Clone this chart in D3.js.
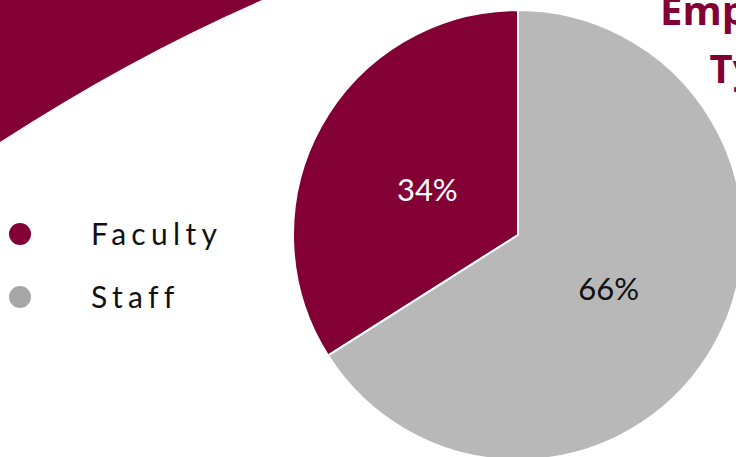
<!DOCTYPE html>
<meta charset="utf-8">
<title>Employee Type</title>
<style>
  body { margin: 0; background: #fff; }
  svg { display: block; }
</style>
<body>
<script src="https://cdn.jsdelivr.net/npm/d3@7"></script>
<script>
  // data
  var categories = ["Faculty", "Staff"];
  var shares = [34, 66];
  var sliceColors = ["#830035", "#b8b8b8"];
  var legendColors = ["#830035", "#a6a6a6"];
  var labelColors = ["#ffffff", "#111111"];
  var titleLines = ["Employee", "Type"];

  var width = 736,
      height = 457;

  var svg = d3.select("body").append("svg")
      .attr("width", width)
      .attr("height", height);

  // decorative maroon swoosh in the top-left corner
  svg.append("path")
      .attr("d", "M0,0 L262,0 Q131,57 0,142 Z")
      .attr("fill", "#830035");

  var cx = 518, cy = 235, radius = 225;

  var pie = d3.pie()
      .sort(null)
      .value(d => d);

  // faculty runs counter-clockwise from 12 o'clock, staff fills the rest
  var arcs = pie.startAngle(0).endAngle(-2 * Math.PI)(shares);

  var arc = d3.arc()
      .innerRadius(0)
      .outerRadius(radius);

  var labelArc = d3.arc()
      .innerRadius(radius * 0.46)
      .outerRadius(radius * 0.46);

  var g = svg.append("g")
      .attr("transform", `translate(${cx},${cy})`);

  g.selectAll("path.slice")
    .data(arcs)
    .join("path")
      .attr("class", "slice")
      .attr("d", arc)
      .attr("fill", (d, i) => sliceColors[i])
      .attr("stroke", "#fff")
      .attr("stroke-width", 2);

  g.selectAll("text.pct")
    .data(arcs)
    .join("text")
      .attr("class", "pct")
      .attr("transform", d => `translate(${labelArc.centroid(d)})`)
      .attr("text-anchor", "middle")
      .attr("dy", "0.5em")
      .attr("font-family", "Lato, sans-serif")
      .attr("font-weight", 400)
      .attr("font-size", 31)
      .attr("fill", (d, i) => labelColors[i])
      .text((d, i) => shares[i] + "%");

  // title, cut off at the right edge as in the original slide
  svg.append("text")
      .attr("y", 25)
      .attr("text-anchor", "middle")
      .attr("font-family", "'Open Sans', sans-serif")
      .attr("font-weight", 700)
      .attr("font-size", 40)
      .attr("fill", "#830035")
    .selectAll("tspan")
    .data(titleLines)
    .join("tspan")
      .attr("x", 757)
      .attr("dy", (d, i) => i ? 58 : 0)
      .text(d => d);

  // legend
  var legend = svg.append("g");
  var ly = d3.scalePoint()
      .domain(categories)
      .range([234, 297]);

  legend.selectAll("circle")
    .data(categories)
    .join("circle")
      .attr("cx", 20)
      .attr("cy", d => ly(d))
      .attr("r", 11)
      .attr("fill", (d, i) => legendColors[i]);

  legend.selectAll("text")
    .data(categories)
    .join("text")
      .attr("x", 91)
      .attr("y", d => ly(d))
      .attr("dy", "0.35em")
      .attr("font-family", "Lato, sans-serif")
      .attr("font-weight", 400)
      .attr("font-size", 30)
      .attr("letter-spacing", 5.3)
      .attr("fill", "#111")
      .text(d => d);
</script>
</body>
